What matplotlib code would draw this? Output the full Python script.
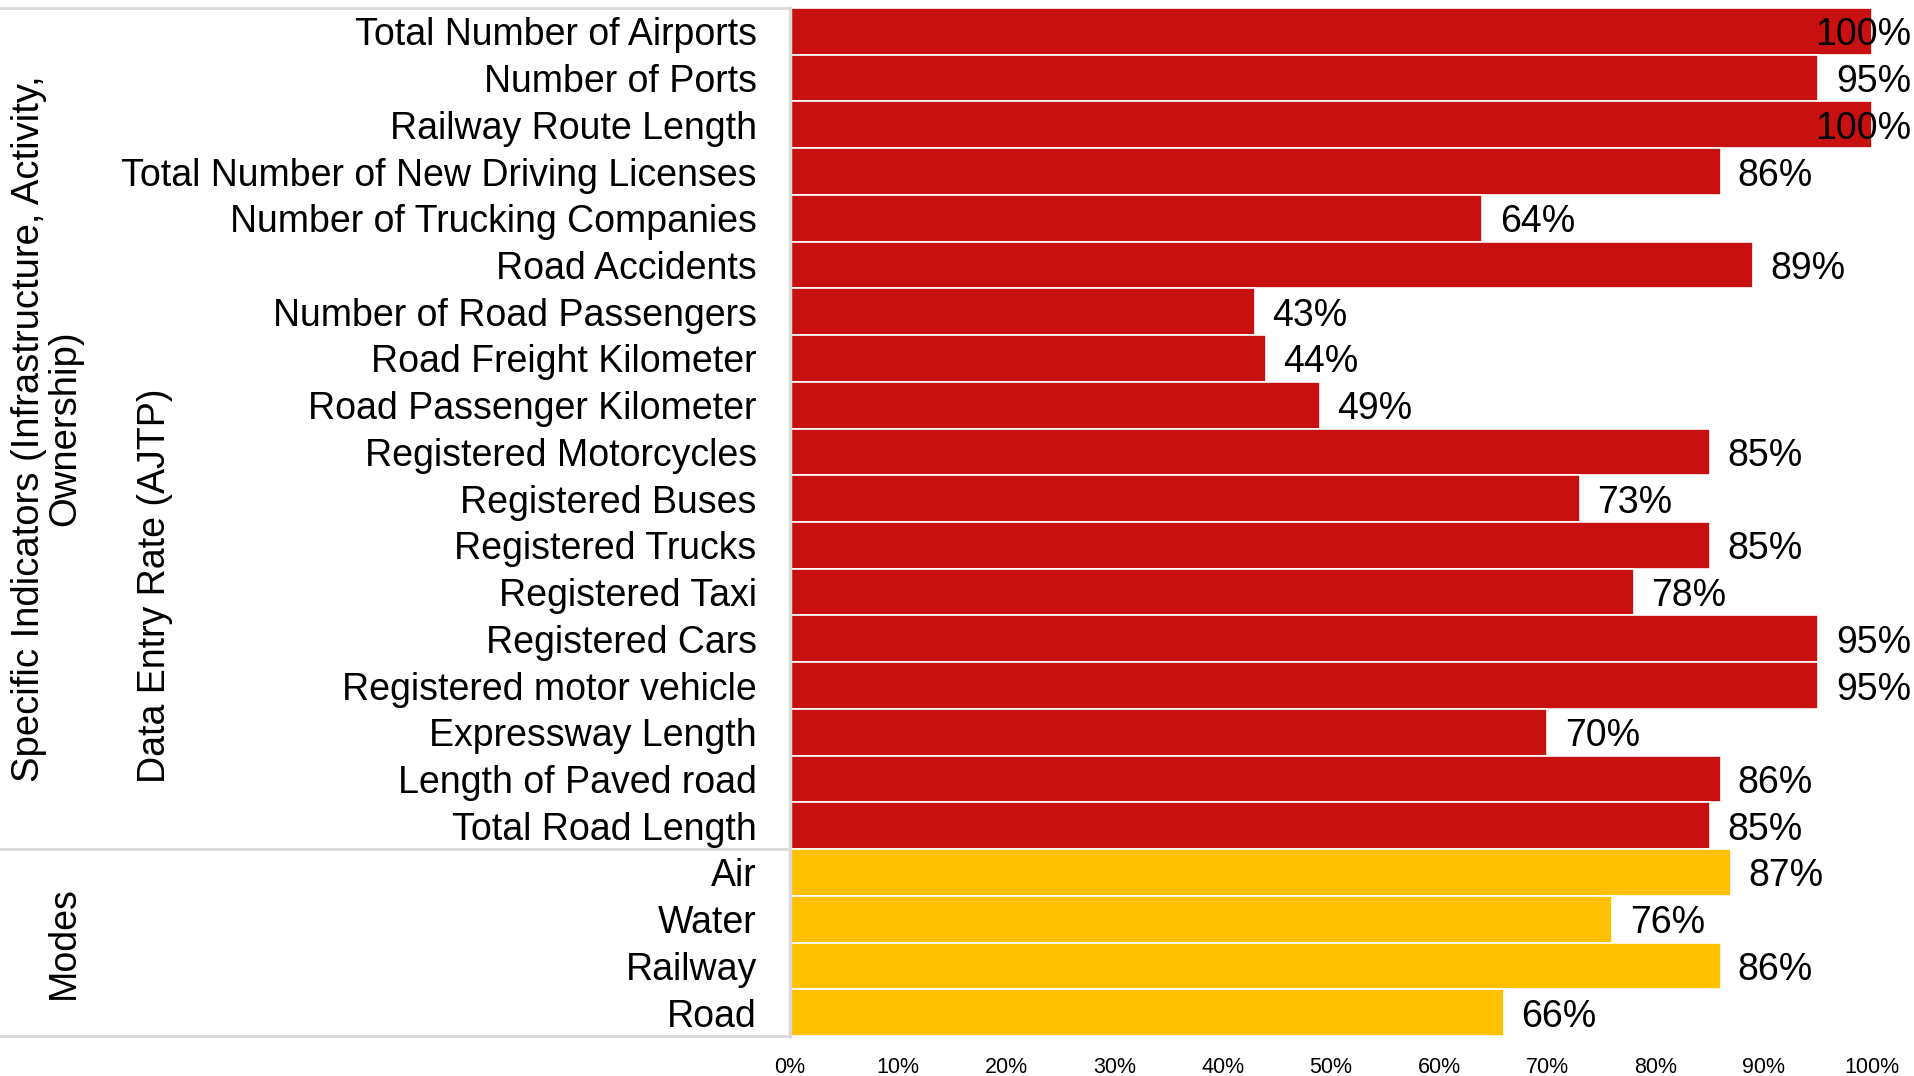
import matplotlib
matplotlib.use("Agg")
import matplotlib.pyplot as plt
from matplotlib.lines import Line2D

plt.rcParams['font.family'] = ['Liberation Sans', 'DejaVu Sans']

indicators = ["Total Number of Airports", "Number of Ports", "Railway Route Length",
              "Total Number of New Driving Licenses", "Number of Trucking Companies",
              "Road Accidents", "Number of Road Passengers", "Road Freight Kilometer",
              "Road Passenger Kilometer", "Registered Motorcycles", "Registered Buses",
              "Registered Trucks", "Registered Taxi", "Registered Cars",
              "Registered motor vehicle", "Expressway Length", "Length of Paved road",
              "Total Road Length"]
indicator_values = [100, 95, 100, 86, 64, 89, 43, 44, 49, 85, 73, 85, 78, 95, 95, 70, 86, 85]

modes = ["Air", "Water", "Railway", "Road"]
mode_values = [87, 76, 86, 66]

xticks = [0, 10, 20, 30, 40, 50, 60, 70, 80, 90, 100]
xtick_labels = [f"{t}%" for t in xticks]

RED = "#C81010"
YELLOW = "#FFC000"
GRID = "#D9D9D9"

labels = indicators + modes
values = indicator_values + mode_values
colors = [RED] * len(indicators) + [YELLOW] * len(modes)
n = len(labels)
ypos = list(range(n))

W, H = 1915, 1076
fig = plt.figure(figsize=(W / 100, H / 100), dpi=100)
left, right, top, bottom = 790, 1872, 8, 1036
ax = fig.add_axes([left / W, 1 - bottom / H, (right - left) / W, (bottom - top) / H])

ax.barh(ypos, values, height=1.0, color=colors, edgecolor="white", linewidth=1.2)
ax.set_ylim(n - 0.5, -0.5)
ax.set_xlim(0, 100)
ax.set_yticks(ypos)
ax.set_yticklabels(labels, fontsize=27)
ax.set_xticks(xticks)
ax.set_xticklabels(xtick_labels, fontsize=15.5)
ax.tick_params(axis='y', length=0, pad=24)
ax.tick_params(axis='x', length=0, pad=15)
for s in ax.spines.values():
    s.set_visible(False)

for y, v in zip(ypos, values):
    if v + 1.6 + 7.5 > 104:
        ax.text(103.6, y, f"{v}%", ha="right", va="center_baseline", fontsize=27, clip_on=False)
    else:
        ax.text(v + 1.6, y, f"{v}%", ha="left", va="center_baseline", fontsize=27, clip_on=False)

# table-like separators in the label area
sep_y = top + (bottom - top) * len(indicators) / n
for yy in [top, sep_y, bottom]:
    fig.add_artist(Line2D([0, left / W], [1 - yy / H, 1 - yy / H], color=GRID, lw=2,
                          transform=fig.transFigure))
fig.add_artist(Line2D([left / W, left / W], [1 - top / H, 1 - bottom / H], color=GRID, lw=2.5,
                      transform=fig.transFigure))

fig.text(47 / W, 1 - ((top + sep_y) / 2) / H,
         "Specific Indicators (Infrastructure, Activity,\nOwnership)",
         rotation=90, ha="center", va="center", fontsize=27.5, linespacing=1.0)
fig.text(155 / W, 1 - 586 / H, "Data Entry Rate (AJTP)", rotation=90,
         ha="center", va="center", fontsize=27)
fig.text(64 / W, 1 - ((sep_y + bottom) / 2) / H, "Modes", rotation=90,
         ha="center", va="center", fontsize=27)

fig.savefig("out.png", dpi=100)
